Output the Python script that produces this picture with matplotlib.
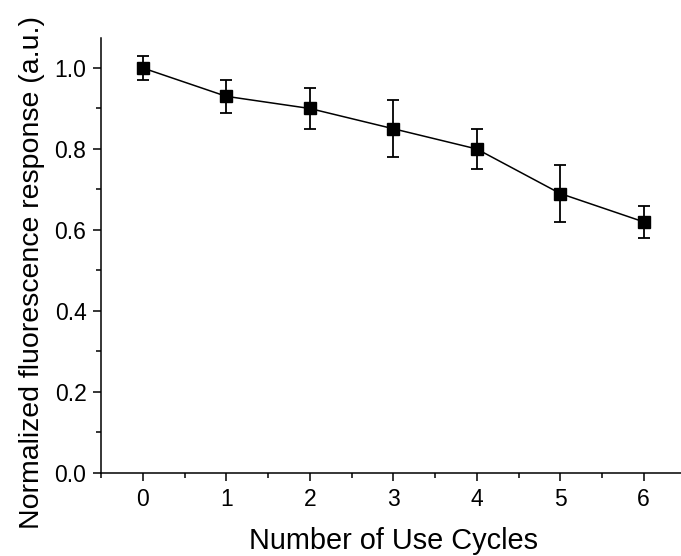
import matplotlib
matplotlib.use("Agg")
import matplotlib.pyplot as plt
from matplotlib.ticker import MultipleLocator, FormatStrFormatter

cycles = [0, 1, 2, 3, 4, 5, 6]
response = [1.00, 0.93, 0.90, 0.85, 0.80, 0.69, 0.62]
errors = [0.03, 0.04, 0.05, 0.07, 0.05, 0.07, 0.04]

plt.rcParams['font.family'] = ['Liberation Sans', 'DejaVu Sans']

fig = plt.figure(figsize=(6.81, 5.56), dpi=100)
ax = fig.add_axes([101 / 681, 1 - 473 / 556, 584.5 / 681, 435 / 556])

ax.errorbar(cycles, response, yerr=errors, color='black', marker='s',
            markersize=8.5, linewidth=1.1, elinewidth=1.3, capsize=4.5,
            capthick=1.3)

ax.set_xlim(-0.5, 6.5)
ax.set_ylim(0.0, 1.074)
ax.xaxis.set_major_locator(MultipleLocator(1))
ax.xaxis.set_minor_locator(MultipleLocator(0.5))
ax.yaxis.set_major_locator(MultipleLocator(0.2))
ax.yaxis.set_minor_locator(MultipleLocator(0.1))
ax.yaxis.set_major_formatter(FormatStrFormatter('%.1f'))

for side in ('top', 'right'):
    ax.spines[side].set_visible(False)
for side in ('left', 'bottom'):
    ax.spines[side].set_linewidth(1.1)

ax.tick_params(which='major', direction='out', length=6, width=1.1,
               labelsize=16.5, pad=4.5)
ax.tick_params(which='minor', direction='out', length=3.5, width=1.1)

ax.set_xlabel('Number of Use Cycles', fontsize=20.8, labelpad=12)
ax.set_ylabel('Normalized fluorescence response (a.u.)', fontsize=20.5,
              labelpad=7)
# keep the long y label inside the figure by centring it a little lower
ax.yaxis.label.set_y(0.462)

fig.savefig('out.png', dpi=100)
